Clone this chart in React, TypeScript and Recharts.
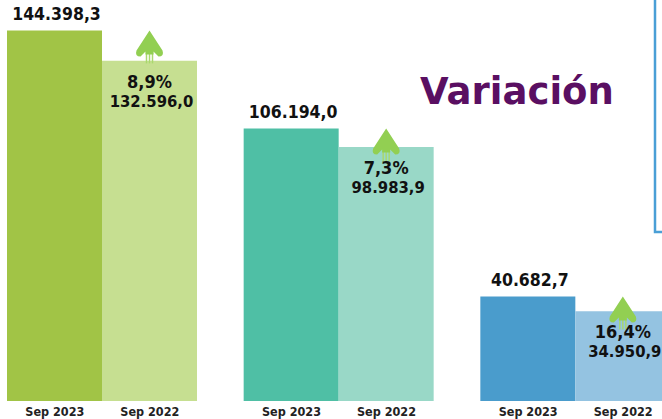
import React from 'react';
import { BarChart, Bar, XAxis, YAxis, Cell, LabelList } from 'recharts';

const categories = ['Grupo 1', 'Grupo 2', 'Grupo 3'];
const periods = ['Sep 2023', 'Sep 2022'];
const current = [144398.3, 106194.0, 40682.7];
const previous = [132596.0, 98983.9, 34950.9];
const variation = [8.9, 7.3, 16.4];

const CURRENT_COLORS = ['#a1c446', '#4fbfa5', '#4a9ccc'];
const PREVIOUS_COLORS = ['#c6df91', '#99d8c7', '#94c3e1'];
const ARROW = '#92cf52';
const FONT = '"DejaVu Sans", Verdana, sans-serif';
const BAR = 95;

const data = categories.map((name, i) => ({
  name,
  idx: i,
  current: current[i],
  previous: previous[i],
}));

// 144398.3 -> "144.398,3"
const fmt = (v: number, dec = 1) => {
  const [i, d] = v.toFixed(dec).split('.');
  return i.replace(/\B(?=(\d{3})+(?!\d))/g, '.') + (d ? ',' + d : '');
};

const labelStyle = { fontStretch: 'condensed' as const };

const PeriodTick = (props: any) => {
  const { x, y } = props;
  return (
    <g>
      {periods.map((p, k) => (
        <text
          key={p}
          x={x + (k === 0 ? -BAR / 2 : BAR / 2)}
          y={y + 15}
          textAnchor="middle"
          fontFamily={FONT}
          fontWeight="bold"
          fontSize={12.5}
          fill="#222"
          style={labelStyle}
        >
          {p}
        </text>
      ))}
    </g>
  );
};

const CurrentLabel = (props: any) => {
  const { x, y, width, value } = props;
  return (
    <text
      x={x + width / 2 + 2}
      y={y - 10.5}
      textAnchor="middle"
      fontFamily={FONT}
      fontWeight="bold"
      fontSize={17.5}
      fill="#111"
      style={labelStyle}
    >
      {fmt(value)}
    </text>
  );
};

const PreviousLabel = (props: any) => {
  const { x, y, width, height, value } = props;
  const i = value as number;
  const cx = x + width / 2;
  const bottom = y + height;
  // tip of the arrow sits at the top of the current-year bar
  const ty = bottom - (height * current[i]) / previous[i];
  const arrow =
    `M${cx},${ty} L${cx + 13},${ty + 20} Q${cx + 15},${ty + 26} ${cx + 9},${ty + 26} ` +
    `L${cx + 4},${ty + 21} L${cx + 4},${ty + 24} L${cx - 4},${ty + 24} L${cx - 4},${ty + 21} ` +
    `L${cx - 9},${ty + 26} Q${cx - 15},${ty + 26} ${cx - 13},${ty + 20} Z`;
  return (
    <g>
      {[-3, 0, 3].map((dx) => (
        <line
          key={dx}
          x1={cx + dx}
          x2={cx + dx}
          y1={ty + 18}
          y2={ty + 33}
          stroke="#a9d86e"
          strokeWidth={1.5}
        />
      ))}
      <path d={arrow} fill={ARROW} />
      <text
        x={cx}
        y={y + 27}
        textAnchor="middle"
        fontFamily={FONT}
        fontWeight="bold"
        fontSize={18}
        fill="#111"
        style={labelStyle}
      >
        {fmt(variation[i]) + '%'}
      </text>
      <text
        x={cx + 2}
        y={y + 46}
        textAnchor="middle"
        fontFamily={FONT}
        fontWeight="bold"
        fontSize={16.5}
        fill="#111"
        style={labelStyle}
      >
        {fmt(previous[i])}
      </text>
    </g>
  );
};

export default function App() {
  return (
    <div
      style={{
        position: 'fixed',
        left: 0,
        top: 0,
        width: 662,
        height: 419,
        overflow: 'hidden',
        background: '#fff',
      }}
    >
      <div style={{ position: 'absolute', left: -40, top: 0 }}>
        <BarChart
          width={780}
          height={419}
          data={data}
          margin={{ top: 16, right: 46, bottom: 0, left: 24 }}
          barGap={0}
        >
          <XAxis
            dataKey="name"
            axisLine={false}
            tickLine={false}
            tickSize={0}
            tickMargin={0}
            height={18}
            interval={0}
            tick={<PeriodTick />}
          />
          <YAxis hide domain={[0, 150000]} />
          <Bar dataKey="current" barSize={BAR} isAnimationActive={false}>
            {data.map((_, i) => (
              <Cell key={i} fill={CURRENT_COLORS[i]} />
            ))}
            <LabelList dataKey="current" content={<CurrentLabel />} />
          </Bar>
          <Bar dataKey="previous" barSize={BAR} isAnimationActive={false}>
            {data.map((_, i) => (
              <Cell key={i} fill={PREVIOUS_COLORS[i]} />
            ))}
            <LabelList dataKey="idx" content={<PreviousLabel />} />
          </Bar>
        </BarChart>
      </div>
      <svg
        width={662}
        height={419}
        style={{ position: 'absolute', left: 0, top: 0, pointerEvents: 'none' }}
      >
        <text
          x={420}
          y={104}
          fontFamily={FONT}
          fontWeight="bold"
          fontSize={37}
          fill="#5a0f62"
        >
          Variación
        </text>
        <path d="M655,0 L655,232 L664,232" fill="none" stroke="#4a9fd6" strokeWidth={2.5} />
      </svg>
    </div>
  );
}
